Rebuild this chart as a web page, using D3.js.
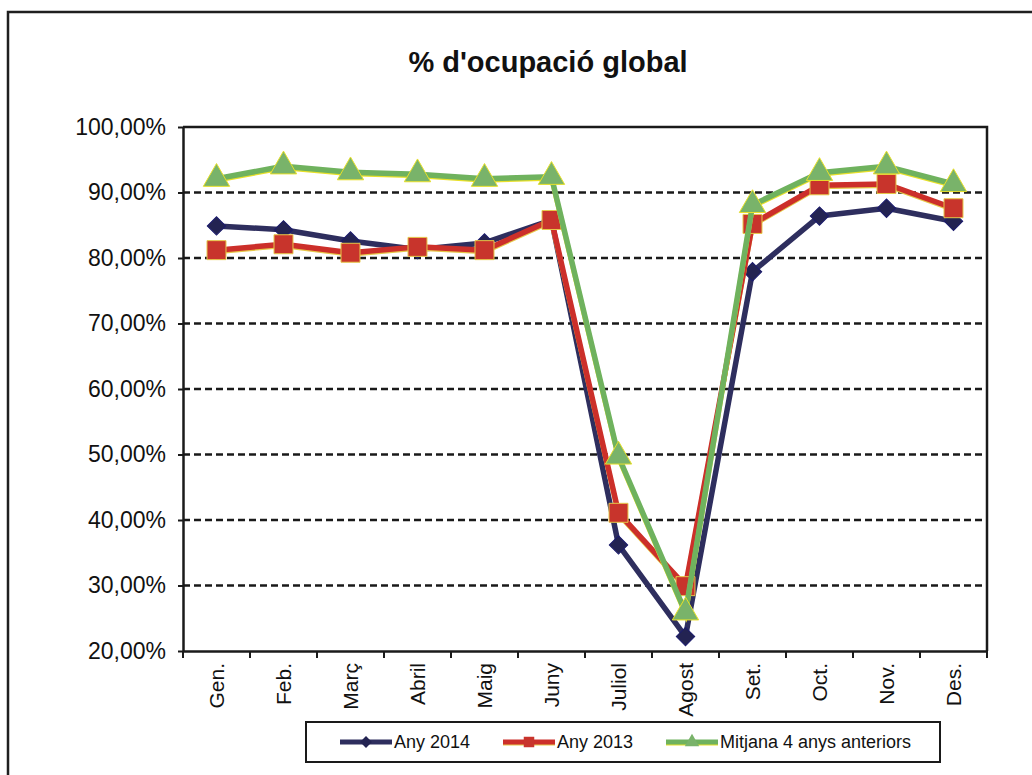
<!DOCTYPE html>
<html>
<head>
<meta charset="utf-8">
<script src="https://cdn.jsdelivr.net/npm/d3@7/dist/d3.min.js"></script>
<style>
  html, body { margin: 0; padding: 0; background: #ffffff; }
  svg { display: block; font-family: "Liberation Sans", Arial, sans-serif; }
</style>
</head>
<body>
<svg id="chart" width="1032" height="775"></svg>
<script>
// Monthly global occupancy (fraction of capacity)
const months = ["Gen.", "Feb.", "Març", "Abril", "Maig", "Juny", "Juliol", "Agost", "Set.", "Oct.", "Nov.", "Des."];
const any2014 = [0.849, 0.843, 0.826, 0.813, 0.823, 0.858, 0.362, 0.222, 0.779, 0.864, 0.876, 0.856];
const any2013 = [0.812, 0.821, 0.808, 0.817, 0.812, 0.858, 0.411, 0.299, 0.852, 0.911, 0.913, 0.876];
const mitjana = [0.921, 0.940, 0.931, 0.928, 0.921, 0.924, 0.497, 0.259, 0.881, 0.930, 0.940, 0.913];
const yTicks = [0.2, 0.3, 0.4, 0.5, 0.6, 0.7, 0.8, 0.9, 1.0];
const seriesNames = ["Any 2014", "Any 2013", "Mitjana 4 anys anteriors"];

const svg = d3.select("#chart");
const W = 1032, H = 775;
const plot = { left: 183, right: 987, top: 127, bottom: 651 };

const x = d3.scaleBand().domain(months).range([plot.left, plot.right]);
const y = d3.scaleLinear().domain([0.2, 1.0]).range([plot.bottom, plot.top]);
const cx = m => x(m) + x.bandwidth() / 2;

// outer chart frame
svg.append("rect").attr("x", 8).attr("y", 12).attr("width", W + 20).attr("height", H + 20)
  .attr("fill", "#fff").attr("stroke", "#1f1f1f").attr("stroke-width", 2.5);

// title
svg.append("text").attr("x", 548).attr("y", 72).attr("text-anchor", "middle")
  .attr("font-size", 29).attr("font-weight", "bold").attr("fill", "#111")
  .text("% d'ocupació global");

// dashed gridlines
svg.append("g").selectAll("line").data(yTicks.filter(v => v > 0.2 && v < 1.0)).join("line")
  .attr("x1", plot.left).attr("x2", plot.right)
  .attr("y1", d => y(d)).attr("y2", d => y(d))
  .attr("stroke", "#1a1a1a").attr("stroke-width", 2.5).attr("stroke-dasharray", "7,4");

// top and right plot border
svg.append("path")
  .attr("d", `M${plot.left},${y(1)}H${plot.right}V${plot.bottom}`)
  .attr("fill", "none").attr("stroke", "#1a1a1a").attr("stroke-width", 2.5);

// y axis
const fmt = v => d3.format(".2f")(v * 100).replace(".", ",") + "%";
const yAxis = svg.append("g").attr("transform", `translate(${plot.left},0)`)
  .call(d3.axisLeft(y).tickValues(yTicks).tickFormat(fmt).tickSize(5).tickSizeOuter(0));
yAxis.select(".domain").attr("stroke", "#1a1a1a").attr("stroke-width", 2.5);
yAxis.selectAll(".tick line").attr("stroke", "#1a1a1a").attr("stroke-width", 2);
yAxis.selectAll(".tick text").attr("font-size", 23).attr("fill", "#111").attr("x", -17)
  .attr("font-family", "Liberation Sans, Arial, sans-serif");

// x axis with labels at category centers, ticks at category boundaries
const xAxis = svg.append("g").attr("transform", `translate(0,${plot.bottom})`)
  .call(d3.axisBottom(x).tickSize(0).tickSizeOuter(0));
xAxis.select(".domain").attr("stroke", "#1a1a1a").attr("stroke-width", 2.5);
xAxis.selectAll(".tick text")
  .attr("font-size", 21).attr("fill", "#111")
  .attr("font-family", "Liberation Sans, Arial, sans-serif")
  .attr("text-anchor", "end")
  .attr("transform", "rotate(-90)")
  .attr("x", -12).attr("y", 0).attr("dy", "0.36em");
const bounds = months.map(m => x(m)).concat([plot.right]);
svg.append("g").selectAll("line").data(bounds).join("line")
  .attr("x1", d => d).attr("x2", d => d)
  .attr("y1", plot.bottom).attr("y2", plot.bottom + 7)
  .attr("stroke", "#1a1a1a").attr("stroke-width", 2);

// series
const line = d3.line().x((d, i) => cx(months[i])).y(d => y(d));
const series = [
  { name: seriesNames[0], values: any2014, color: "#2e2e5e", edge: null, marker: "diamond", fill: "#232352" },
  { name: seriesNames[1], values: any2013, color: "#cc2f2a", edge: "#e6c84a", marker: "square", fill: "#c8342c" },
  { name: seriesNames[2], values: mitjana, color: "#6fb25e", edge: "#e8e02a", marker: "triangle", fill: "#79b36a" }
];

// diamonds are squares turned 45 degrees
const symbolPath = {
  diamond: d3.symbol().type(d3.symbolSquare).size(170)(),
  square: d3.symbol().type(d3.symbolSquare).size(360)(),
  triangle: d3.symbol().type(d3.symbolTriangle).size(300)()
};
const rot = m => (m === "diamond" ? " rotate(45)" : "");

series.forEach(s => {
  const g = svg.append("g");
  if (s.edge) {
    g.append("path").attr("d", line(s.values)).attr("fill", "none")
      .attr("stroke", s.edge).attr("stroke-width", 5)
      .attr("transform", "translate(0,1.5)");
  }
  g.append("path").attr("d", line(s.values)).attr("fill", "none")
    .attr("stroke", s.color).attr("stroke-width", 5.5).attr("stroke-linejoin", "round");
  g.selectAll("path.mk").data(s.values).join("path").attr("class", "mk")
    .attr("d", symbolPath[s.marker])
    .attr("transform", (d, i) => `translate(${cx(months[i])},${y(d)})` + rot(s.marker))
    .attr("fill", s.fill)
    .attr("stroke", s.marker === "diamond" ? "#1c1c6e" : (s.edge || s.fill))
    .attr("stroke-width", 1);
});

// legend
const lg = svg.append("g");
lg.append("rect").attr("x", 306).attr("y", 722).attr("width", 634).attr("height", 40)
  .attr("fill", "#fff").attr("stroke", "#1a1a1a").attr("stroke-width", 2);
const legendX = [340, 503, 666];
series.forEach((s, i) => {
  const lx = legendX[i], ly = 742;
  if (s.edge) {
    lg.append("line").attr("x1", lx).attr("x2", lx + 52).attr("y1", ly + 1.5).attr("y2", ly + 1.5)
      .attr("stroke", s.edge).attr("stroke-width", 4);
  }
  lg.append("line").attr("x1", lx).attr("x2", lx + 52).attr("y1", ly).attr("y2", ly)
    .attr("stroke", s.color).attr("stroke-width", 5);
  const small = d3.symbol().type(s.marker === "triangle" ? d3.symbolTriangle : d3.symbolSquare)
    .size(s.marker === "square" ? 110 : s.marker === "diamond" ? 70 : 90)();
  lg.append("path").attr("d", small).attr("transform", `translate(${lx + 26},${ly})` + rot(s.marker))
    .attr("fill", s.fill);
  lg.append("text").attr("x", lx + 54).attr("y", ly + 6).attr("font-size", 18).attr("fill", "#111")
    .text(s.name);
});
</script>
</body>
</html>
